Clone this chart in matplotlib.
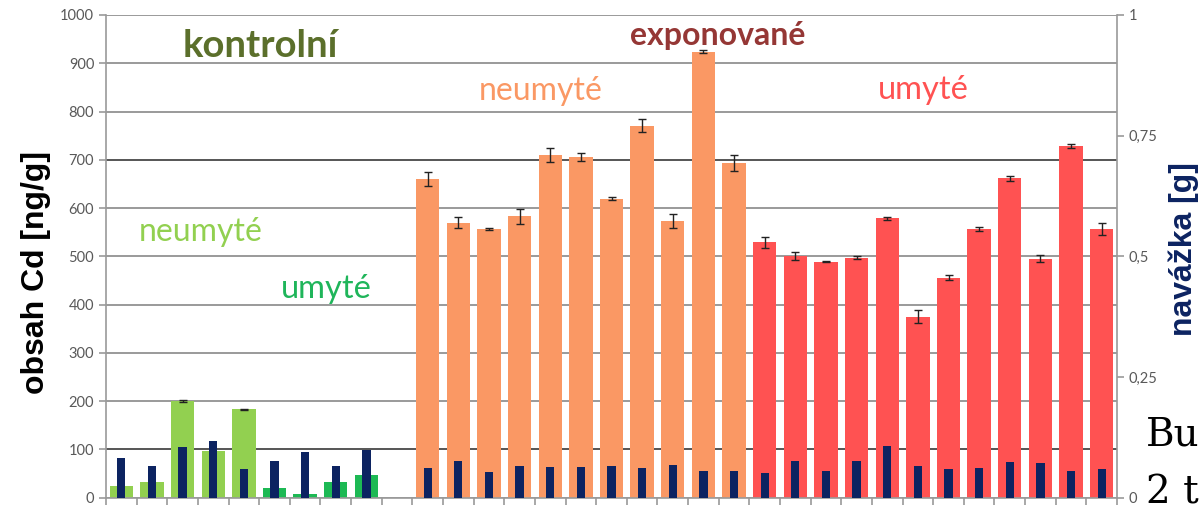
import numpy as np
import matplotlib
matplotlib.use("Agg")
import matplotlib.pyplot as plt

# obsah Cd [ng/g]
kontrolni_neumyte = [25, 33, 200, 96, 183]
kontrolni_neumyte_err = [0, 0, 1.5, 0, 1.5]
kontrolni_umyte = [20, 7, 33, 47]
exp_neumyte = [660, 570, 556, 583, 710, 706, 619, 771, 573, 924, 693]
exp_neumyte_err = [14, 11, 2, 15, 15, 9, 3, 14, 14, 3, 17]
exp_umyte = [529, 501, 489, 497, 579, 375, 456, 557, 662, 495, 729, 557]
exp_umyte_err = [12, 8, 1, 3.5, 3.5, 13, 5.5, 4, 5, 7, 4.5, 13]

# navážka [g]
nav_kontrolni = [0.082, 0.066, 0.104, 0.117, 0.060, 0.077, 0.094, 0.066, 0.099]
nav_exp_neumyte = [0.061, 0.076, 0.053, 0.066, 0.063, 0.063, 0.066, 0.061, 0.067, 0.056, 0.056]
nav_exp_umyte = [0.052, 0.076, 0.055, 0.077, 0.107, 0.066, 0.060, 0.062, 0.073, 0.071, 0.055, 0.060]

c_lgreen = "#92d050"
c_green = "#1db954"
c_orange = "#fa9864"
c_red = "#ff5252"
c_navy = "#0c2361"
c_grid = "#9a9a9a"
c_tick = "#595959"

n_kn = len(kontrolni_neumyte)
n_ku = len(kontrolni_umyte)
x_kn = np.arange(n_kn)
x_ku = np.arange(n_kn, n_kn + n_ku)
x_en = np.arange(n_kn + n_ku + 1, n_kn + n_ku + 1 + len(exp_neumyte))
x_eu = np.arange(x_en[-1] + 1, x_en[-1] + 1 + len(exp_umyte))
n_cat = x_eu[-1] + 1

fig = plt.figure(figsize=(11.99, 5.12), dpi=100)
W, H = 1199, 512
ax = fig.add_axes([106 / W, 1 - 497.7 / H, (1117 - 106) / W, (497.7 - 15) / H])

bw = 0.76
ax.bar(x_kn, kontrolni_neumyte, bw, color=c_lgreen, zorder=2)
ax.bar(x_ku, kontrolni_umyte, bw, color=c_green, zorder=2)
ax.bar(x_en, exp_neumyte, bw, color=c_orange, zorder=2)
ax.bar(x_eu, exp_umyte, bw, color=c_red, zorder=2)

ekw = dict(fmt="none", ecolor="#222222", elinewidth=1, capsize=3, capthick=1, zorder=3)
m = np.array(kontrolni_neumyte_err) > 0
ax.errorbar(x_kn[m], np.array(kontrolni_neumyte)[m], yerr=np.array(kontrolni_neumyte_err)[m], **ekw)
ax.errorbar(x_en, exp_neumyte, yerr=exp_neumyte_err, **ekw)
ax.errorbar(x_eu, exp_umyte, yerr=exp_umyte_err, **ekw)

ax.set_xlim(-0.5, n_cat - 0.5)
ax.set_ylim(0, 1000)
ax.set_yticks(np.arange(0, 1001, 100))
ax.set_xticks(np.arange(-0.5, n_cat, 1.0))
ax.set_xticklabels([])
ax.set_axisbelow(True)
ax.grid(axis="y", color=c_grid, lw=1.4)
for gl, v in zip(ax.get_ygridlines(), np.arange(0, 1001, 100)):
    if v in (100, 700):
        gl.set_color("#555555")
ax.tick_params(axis="y", colors=c_grid, labelcolor=c_tick, labelsize=10.5, length=5, width=1.2)
ax.tick_params(axis="x", colors=c_grid, length=5, width=1.2)
for s in ["top", "right"]:
    ax.spines[s].set_visible(False)
for s in ["left", "bottom"]:
    ax.spines[s].set_color(c_grid)
    ax.spines[s].set_linewidth(1.2)
for lab in ax.get_yticklabels():
    lab.set_fontfamily("Lato")

ax2 = ax.twinx()
nb = 0.27
ax2.bar(x_kn, nav_kontrolni[:n_kn], nb, color=c_navy, zorder=4)
ax2.bar(x_ku, nav_kontrolni[n_kn:], nb, color=c_navy, zorder=4)
ax2.bar(x_en, nav_exp_neumyte, nb, color=c_navy, zorder=4)
ax2.bar(x_eu, nav_exp_umyte, nb, color=c_navy, zorder=4)
ax2.set_ylim(0, 1)
ax2.set_yticks([0, 0.25, 0.5, 0.75, 1])
ax2.set_yticklabels(["0", "0,25", "0,5", "0,75", "1"], fontfamily="Lato")
ax2.tick_params(axis="y", colors=c_grid, labelcolor=c_tick, labelsize=10.5, length=5, width=1.2)
for s in ["top", "left", "bottom"]:
    ax2.spines[s].set_visible(False)
ax2.spines["right"].set_color(c_grid)
ax2.spines["right"].set_linewidth(1.2)

# popisky os
fig.text(36 / W, 1 - 272 / H, "obsah Cd [ng/g]", rotation=90, ha="center", va="center",
         fontsize=23, fontweight="bold", family="Liberation Sans", color="black")
fig.text(1184 / W, 1 - 249 / H, "navážka [g]", rotation=90, ha="center", va="center",
         fontsize=23, fontweight="bold", family="Liberation Sans", color=c_navy)

# popisky skupin
def lbl(x, y, s, color, size, weight="normal"):
    fig.text(x / W, 1 - y / H, s, ha="center", va="center", color=color,
             fontsize=size, fontweight=weight, family="Lato")

lbl(260, 46, "kontrolní", "#5b6f2b", 27.5, "bold")
lbl(201, 232, "neumyté", c_lgreen, 23)
lbl(326, 289, "umyté", "#1fb55a", 23.5)
lbl(718, 35, "exponované", "#953735", 23, "bold")
lbl(541, 91, "neumyté", c_orange, 23)
lbl(923, 90, "umyté", c_red, 23.5)

# okolní text dokumentu
fig.text(1146 / W, 1 - 445 / H, "Bu", fontsize=28, family="DejaVu Serif", color="black", va="baseline")
fig.text(1146 / W, 1 - 503 / H, "2 t", fontsize=28, family="DejaVu Serif", color="black", va="baseline")

fig.savefig("out.png", dpi=100)
